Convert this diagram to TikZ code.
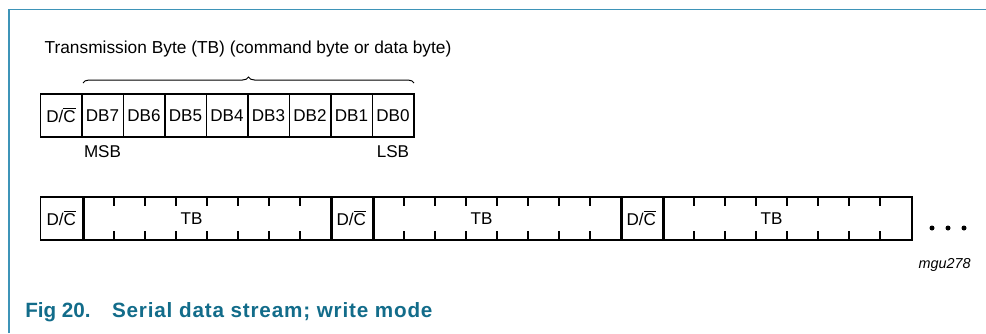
\documentclass[tikz,border=0pt]{standalone}
\usepackage{fontspec}
\setmainfont{Liberation Sans}
\usetikzlibrary{decorations.pathreplacing}
\newdimen\pxu \pxu=0.75pt
\newcommand\ovl[1]{$\overline{\hbox{#1}}$}
\definecolor{framecol}{RGB}{62,148,184}
\definecolor{capcol}{RGB}{18,108,138}
\begin{document}
\begin{tikzpicture}[x=0.75pt,y=-0.75pt,
  lbl/.style={font=\fontsize{12.8}{15}\selectfont, inner sep=0pt},
  cell/.style={draw, line width=1.5\pxu, inner sep=0pt, anchor=north west,
    minimum height=43\pxu, font=\fontsize{12.8}{15}\selectfont},
  bitcell/.style={cell, minimum width=41.5\pxu},
  dccell/.style={cell, minimum width=42\pxu},
  tbcell/.style={cell, minimum width=248\pxu},
  tick/.style={line width=1.3\pxu},
  dot/.style={circle, fill, inner sep=0pt, minimum size=5\pxu},
  frameline/.style={framecol, line width=1.5\pxu}]
\useasboundingbox (0,0) rectangle (986,333);

% frame
\draw[frameline] (9,333) -- (9,9.5) -- (986,9.5);

% one transmission byte, bit by bit
\node[bitcell] (dc) at (39.5,93) {D/\ovl{C}};
\foreach \i/\n in {1/7,2/6,3/5,4/4,5/3,6/2,7/1,8/0}{
  \node[bitcell] (b\i) at ({39.5+41.5*\i},93) {DB\n};
}
\node[lbl] (msb) at (b1.center |- 0,152) {MSB};
\node[lbl] (lsb) at (b8.center |- 0,152) {LSB};
\draw[line width=1\pxu, decorate, decoration={brace, amplitude=6\pxu}]
  ([xshift=2\pxu,yshift=10\pxu]b1.north west) coordinate (brl)
  -- ([xshift=-0.5\pxu,yshift=10\pxu]b8.north east) coordinate (brr);
\node[lbl, font=\fontsize{13}{15}\selectfont] (title) at (248,49) {Transmission Byte (TB) (command byte or data byte)};

% serial stream of three bytes
\foreach \k in {1,2,3}{
  \pgfmathsetmacro{\sx}{39.5+290*(\k-1)}
  \node[dccell] (s\k) at (\sx,196) {D/\ovl{C}};
  \node[tbcell] (t\k) at (s\k.north east) {};
  \foreach \j in {1,...,7}{
    \draw[tick] ([xshift=31*\j\pxu]t\k.north west) -- ++(0,10);
    \draw[tick] ([xshift=31*\j\pxu]t\k.south west) -- ++(0,-10);
  }
  \node[lbl] (tb\k) at ([xshift=108.5\pxu]t\k.west) {TB};
}

% continuation dots
\node[dot] (e1) at (932,228) {};
\node[dot] (e2) at (948,228) {};
\node[dot] (e3) at (964,228) {};

\node[font=\fontsize{10.8}{13}\selectfont\itshape, inner sep=0pt, anchor=east] (id) at (971,265) {mgu278};

\node[font=\fontsize{15.5}{18}\selectfont\bfseries, text=capcol, inner sep=0pt, anchor=west] (cap) at (25,312)
  {Fig 20.\hspace{16pt}{\addfontfeature{LetterSpace=4}Serial data stream; write mode}};
\end{tikzpicture}
\end{document}
